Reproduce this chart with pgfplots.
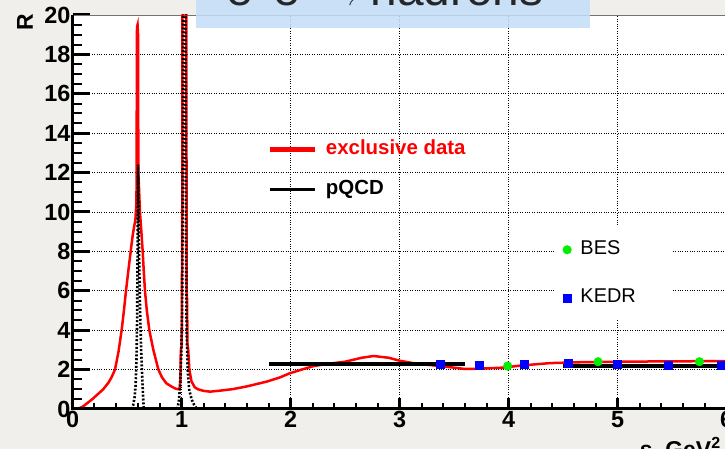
\documentclass[border=0pt]{standalone}
\usepackage{pgfplots}
\pgfplotsset{compat=1.18}
\usepackage{fontspec}
\setmainfont{Liberation Sans}
\pgfdeclarelayer{bg}
\pgfsetlayers{bg,main}
\definecolor{bgc}{RGB}{241,239,235}
\definecolor{titlebox}{RGB}{196,222,248}
\definecolor{bes}{RGB}{0,238,0}
\begin{document}
\begin{tikzpicture}[x=1bp,y=1bp]
\begin{axis}[name=main,
  width=654bp, height=394bp, scale only axis,
  xmin=0, xmax=6, ymin=0, ymax=20,
  xtick={0,...,6}, ytick={0,2,...,20},
  minor x tick num=4, minor y tick num=3,
  tick align=inside, xtick pos=bottom, ytick pos=left,
  major tick length=17bp, minor tick length=9bp,
  xtick style={/pgfplots/major tick length=11bp, /pgfplots/minor tick length=6bp},
  major tick style={black, line width=3bp},
  minor tick style={black, line width=2bp},
  grid=major, major grid style={black, dotted, line width=0.8bp},
  axis line style={draw=black!55, line width=0.8bp},
  axis background/.style={fill=white},
  ticklabel style={font=\fontsize{23.5}{23.5}\selectfont\bfseries, inner sep=2bp},
  /pgf/number format/assume math mode=true,
  xlabel={s, GeV\textsuperscript{2}}, ylabel={R},
  label style={font=\fontsize{23}{23}\selectfont\bfseries},
  xlabel style={at={(axis description cs:0.867,-0.071)}, anchor=north west, inner sep=0pt},
  ylabel style={at={(axis description cs:-0.073,0.982)}, anchor=center, inner sep=0pt},
  legend style={at={(axis cs:1.785,13.7)}, anchor=north west, draw=none, fill=none,
    inner sep=0pt, column sep=7bp, row sep=20bp,
    font=\fontsize{20.5}{20.5}\selectfont\bfseries,
    nodes={inner sep=1bp, text height=14bp, text depth=4bp}},
  legend cell align=left,
  legend image code/.code={\draw[#1] (0bp,0bp) -- (45bp,0bp);},
]
\coordinate (O) at (rel axis cs:0,0);
\coordinate (TL) at (rel axis cs:0,1);
\coordinate (BR) at (rel axis cs:1,0);
% exclusive data
\addplot[red, line width=2.5bp, legend image post style={line width=5.5bp}] coordinates {
(0.05,0) (0.1,0.15) (0.18,0.5) (0.23,0.75) (0.28,1.0) (0.33,1.35) (0.36,1.65) (0.388,2)
(0.42,2.9) (0.449,4) (0.47,5) (0.489,6) (0.51,7) (0.532,8) (0.55,8.8) (0.565,9.3) (0.575,9.6)
(0.585,10.5) (0.59,19.4) (0.595,19.5) (0.598,19.1) (0.600,19.0) (0.602,12) (0.61,11)
(0.617,10) (0.63,9) (0.642,8) (0.652,7) (0.663,6) (0.68,5) (0.703,4) (0.74,3) (0.786,2)
(0.82,1.6) (0.86,1.3) (0.91,1.13) (0.95,1.02) (0.98,1.0) (0.988,1.5) (0.992,3.0) (1.0,3.2)
(1.005,10) (1.012,40) (1.04,40) (1.045,6) (1.05,5.5) (1.052,3.3) (1.06,3.0) (1.07,2.0)
(1.09,1.4) (1.12,1.1) (1.15,1.0) (1.2,0.92) (1.26,0.88) (1.35,0.93) (1.47,1.01) (1.6,1.15)
(1.78,1.39) (1.9,1.6) (1.99,1.81) (2.1,2.0) (2.21,2.18) (2.35,2.3) (2.5,2.4) (2.65,2.6)
(2.76,2.69) (2.9,2.6) (3.0,2.45) (3.12,2.33) (3.25,2.25) (3.45,2.13) (3.6,2.03) (3.75,2.05)
(3.95,2.1) (4.1,2.2) (4.38,2.33) (4.7,2.38) (5.0,2.4) (5.5,2.42) (6.0,2.43)};
\addlegendentry[text=red]{exclusive data}
% pQCD
\addplot[black, line width=3.5bp, legend image post style={line width=3bp}] coordinates {(1.8,2.28) (3.6,2.28)};
\addlegendentry{pQCD}
\addplot[black, line width=3.5bp, forget plot] coordinates {(4.5,2.19) (6.0,2.19)};
% dotted narrow resonances (drawn over the red curve)
\addplot[black, line width=2.6bp, dash pattern=on 2bp off 1.8bp, forget plot] coordinates {
(0.537,0) (0.555,0.2) (0.568,0.6) (0.577,1.2) (0.585,2.5) (0.591,4.5) (0.596,8.5) (0.600,12.4)
(0.604,10) (0.610,7.5) (0.618,5) (0.628,3) (0.638,1.6) (0.646,0.6) (0.652,0)};
\addplot[black, line width=2.6bp, dash pattern=on 2bp off 1.8bp, forget plot] coordinates {
(0.955,0) (0.972,0.3) (0.986,1.2) (0.996,2.8) (1.004,5) (1.010,12) (1.016,40) (1.032,40)
(1.038,10) (1.045,4) (1.055,2) (1.068,1.0) (1.09,0.5) (1.115,0.2) (1.14,0)};
\end{axis}
\draw[black, line width=3bp] (TL) -- (O) -- (BR);
\path (O) ++(-72.7,-40) coordinate (BL);
\fill[white, shift={(BL)}] (555,129) rectangle (673,222);
\begin{axis}[
  width=654bp, height=394bp, scale only axis,
  xmin=0, xmax=6, ymin=0, ymax=20, hide axis,
  legend style={at={(axis cs:4.495,8.6)}, anchor=north west, draw=none, fill=none,
    inner sep=0pt, column sep=8bp, row sep=28bp,
    font=\fontsize{20}{20}\selectfont,
    nodes={inner sep=1bp, text height=14bp, text depth=4bp}},
  legend cell align=left,
  legend image code/.code={\draw[#1] plot coordinates {(0bp,0bp)};},
]
\addplot[only marks, mark=*, mark size=4.3bp, color=bes] coordinates {(3.99,2.18) (4.82,2.4) (5.75,2.4)};
\addlegendentry{BES}
\addplot[only marks, mark=square*, mark size=4bp, color=blue] coordinates {
(3.376,2.25) (3.73,2.2) (4.14,2.27) (4.547,2.35) (4.997,2.27) (5.46,2.2) (5.95,2.2)};
\addlegendentry{KEDR}
\end{axis}
\begin{scope}[shift={(BL)}]
\fill[titlebox, fill opacity=0.85] (196,421.3) rectangle (590,470);
\node[anchor=base, font=\fontsize{48}{48}\selectfont, text=black!85] at (385,443.5) {e\textsuperscript{+}e\textsuperscript{--} $\rightarrow$ hadrons};
\end{scope}
\begin{pgfonlayer}{bg}
\fill[bgc, shift={(BL)}] (0,0) rectangle (725,449);
\end{pgfonlayer}
\pgfresetboundingbox
\path[use as bounding box, shift={(BL)}] (0,0) rectangle (725,449);
\end{tikzpicture}
\end{document}
